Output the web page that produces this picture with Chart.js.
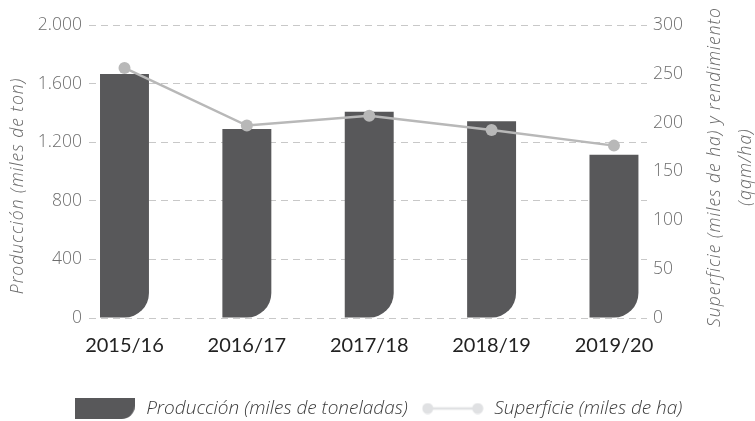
<!DOCTYPE html>
<html><head><meta charset="utf-8">
<script src="https://cdn.jsdelivr.net/npm/chart.js@4/dist/chart.umd.min.js"></script>
<style>html,body{margin:0;padding:0;background:#fff;}canvas{display:block}</style>
</head><body>
<canvas id="c" width="755" height="421"></canvas>
<script>
const categories = ['2015/16', '2016/17', '2017/18', '2018/19', '2019/20'];
const produccion = [1665, 1290, 1408, 1343, 1115];
const superficie = [256, 197, 207, 192.5, 176.5];
const leftTicks = [0, 400, 800, 1200, 1600, 2000];
const rightTicks = [0, 50, 100, 150, 200, 250, 300];
const seriesNames = ['Producción (miles de toneladas)', 'Superficie (miles de ha)'];
const leftTitle = 'Producción (miles de ton)';
const rightTitle = ['Superficie (miles de ha) y rendimiento', '(qqm/ha)'];

const BAR = '#58585a';
const LINE = '#b8b8b8';
const LINE_LEG = '#e0e1e3';
const FONT = "'Open Sans', sans-serif";

function fmt(v){ return String(v).replace(/\B(?=(\d{3})+(?!\d))/g, '.'); }

function barIcon(){
  const c = document.createElement('canvas'); c.width = 60; c.height = 21;
  const g = c.getContext('2d'); const r = 13;
  g.fillStyle = BAR; g.beginPath();
  g.moveTo(0,0); g.lineTo(60,0); g.lineTo(60,21-r); g.arcTo(60,21,60-r,21,r); g.lineTo(0,21); g.closePath(); g.fill();
  return c;
}
function lineIcon(){
  const c = document.createElement('canvas'); c.width = 62; c.height = 12;
  const g = c.getContext('2d');
  g.strokeStyle = LINE_LEG; g.lineWidth = 2.5; g.beginPath(); g.moveTo(6,6); g.lineTo(56,6); g.stroke();
  g.fillStyle = LINE_LEG; g.beginPath(); g.arc(6,6,5.5,0,Math.PI*2); g.fill();
  g.beginPath(); g.arc(56,6,5.5,0,Math.PI*2); g.fill();
  return c;
}
const icons = [barIcon(), lineIcon()];

const titlesPlugin = {
  id: 'axisTitles',
  afterDraw(chart){
    const ctx = chart.ctx;
    ctx.save();
    ctx.font = "italic 300 17.5px " + FONT;
    ctx.letterSpacing = '1px';
    ctx.fillStyle = '#6a6a6a';
    ctx.textAlign = 'center'; ctx.textBaseline = 'middle';
    ctx.save(); ctx.translate(18, 186); ctx.rotate(-Math.PI/2); ctx.fillText(leftTitle, 0, 0); ctx.restore();
    ctx.save(); ctx.translate(715, 167); ctx.rotate(-Math.PI/2);
    ctx.fillText(rightTitle[0], 0, 0); ctx.fillText(rightTitle[1], 0, 31); ctx.restore();
    ctx.letterSpacing = '0px';
    ctx.restore();
  }
};

new Chart(document.getElementById('c'), {
  data: {
    datasets: [
      {
        type: 'bar', label: seriesNames[0],
        data: categories.map((c, i) => ({x: i, y: produccion[i]})),
        backgroundColor: BAR, yAxisID: 'y', order: 2,
        borderSkipped: false,
        borderRadius: {topLeft: 0, topRight: 0, bottomLeft: 0, bottomRight: 28},
        categoryPercentage: 0.8, barPercentage: 0.5
      },
      {
        type: 'line', label: seriesNames[1],
        data: categories.map((c, i) => ({x: i, y: superficie[i]})),
        borderColor: LINE, backgroundColor: LINE, borderWidth: 2.5,
        pointRadius: 6, pointBackgroundColor: LINE, pointBorderWidth: 0,
        yAxisID: 'y1', order: 1, tension: 0
      }
    ]
  },
  options: {
    responsive: false, animation: false, devicePixelRatio: 1,
    layout: {padding: {top: 25, left: 0, right: 0, bottom: 0}},
    plugins: {
      tooltip: {enabled: false},
      legend: {
        position: 'bottom', maxHeight: 35,
        labels: {
          usePointStyle: true, pointStyleWidth: 64, padding: 13,
          color: '#3a3a3a', font: {family: FONT, size: 19, style: 'italic', weight: 300},
          generateLabels(chart){
            return chart.data.datasets.map((d, i) => ({
              text: d.label, pointStyle: icons[i], datasetIndex: i, fontColor: '#3a3a3a',
              fillStyle: 'transparent', strokeStyle: 'transparent', lineWidth: 0, hidden: false
            }));
          }
        }
      }
    },
    scales: {
      x: {
        type: 'linear', min: -0.29, max: 4.27, offset: false,
        afterBuildTicks(s){ s.ticks = categories.map((c, i) => ({value: i})); },
        afterFit(s){ s.height = 68; },
        grid: {display: false, drawTicks: false}, border: {display: false},
        ticks: {callback: (v) => categories[v], color: '#222', padding: 16,
          font: {family: "'Lato', sans-serif", size: 20}, maxRotation: 0, autoSkip: false}
      },
      y: {
        position: 'left', min: 0, max: 2000,
        afterBuildTicks(s){ s.ticks = leftTicks.map(v => ({value: v})); },
        afterFit(s){ s.width = 89; },
        grid: {color: '#c8c8c8', lineWidth: 1, drawTicks: false},
        border: {display: false, dash: [7, 5]},
        ticks: {callback: fmt, color: '#6d6d6d', padding: 7,
          font: {family: FONT, size: 17.5, weight: 300}}
      },
      y1: {
        position: 'right', min: 0, max: 300,
        afterBuildTicks(s){ s.ticks = rightTicks.map(v => ({value: v})); },
        afterFit(s){ s.width = 108; },
        grid: {display: false, drawTicks: false}, border: {display: false},
        ticks: {color: '#6d6d6d', padding: 6,
          font: {family: FONT, size: 17.5, weight: 300}}
      }
    }
  },
  plugins: [titlesPlugin]
});
</script>
</body></html>
